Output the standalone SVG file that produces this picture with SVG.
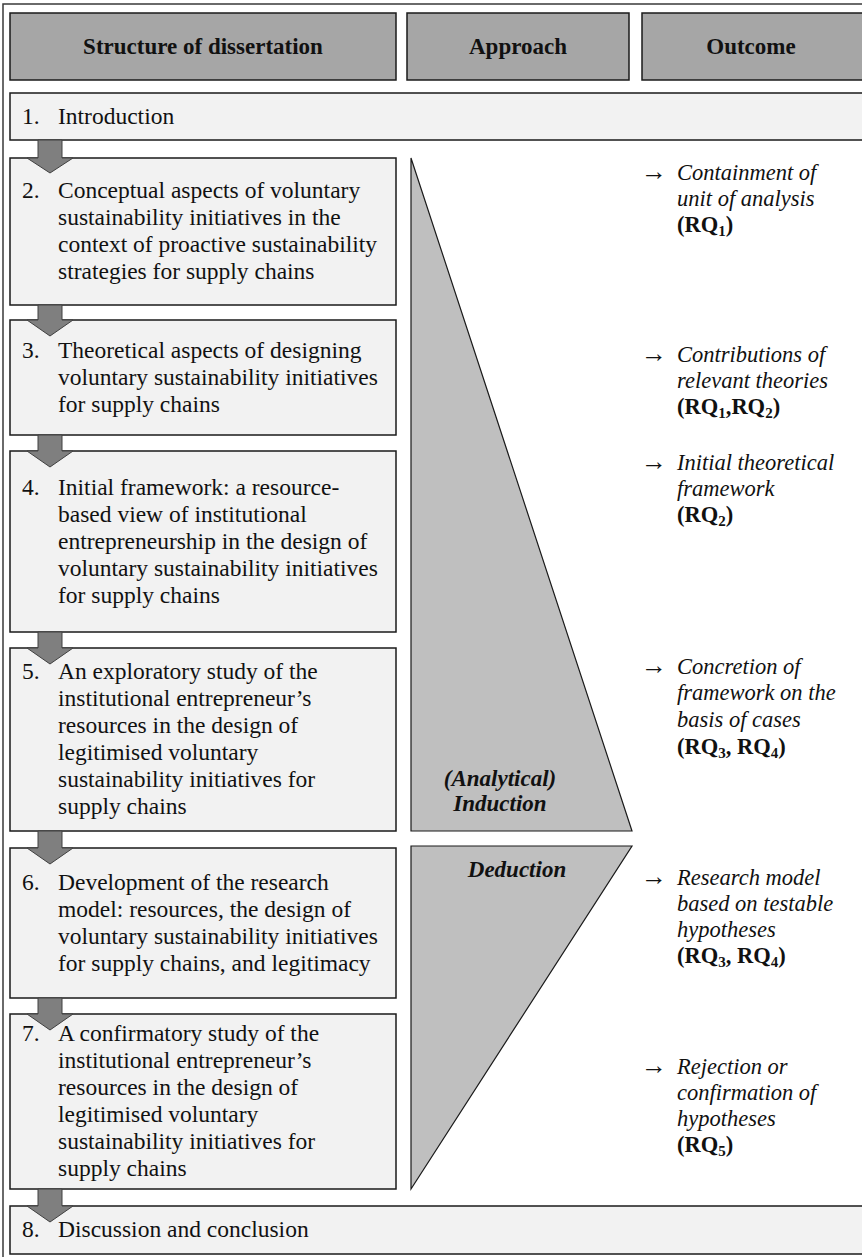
<svg xmlns="http://www.w3.org/2000/svg" width="862" height="1257" viewBox="0 0 862 1257">
  <defs>
    <style>
      .frame { fill: #ffffff; stroke: #3a3a3a; stroke-width: 1.5; }
      .head { fill: #a6a6a6; stroke: #1a1a1a; stroke-width: 1.5; }
      .box { fill: #f2f2f2; stroke: #1a1a1a; stroke-width: 1.5; }
      .tri { fill: #bfbfbf; stroke: #1a1a1a; stroke-width: 1.2; }
      .arrow { fill: #7f7f7f; stroke: #404040; stroke-width: 1; }
      text { font-family: "Liberation Serif", "Times New Roman", serif; fill: #111111; }
      .ht { font-size: 23px; font-weight: bold; text-anchor: middle; }
      .bt { font-size: 23.5px; }
      .ot { font-size: 22.5px; font-style: italic; }
      .ar { font-size: 26px; }
      .rq { font-size: 22.5px; font-weight: bold; }
      .ap { font-size: 23px; font-weight: bold; font-style: italic; text-anchor: middle; }
    </style>
  </defs>

  <!-- outer frame -->
  <rect class="frame" x="3" y="4" width="870" height="1262"/>

  <!-- column headers -->
  <g id="header-structure">
    <rect class="head" x="10" y="13" width="386" height="67"/>
    <text class="ht" x="203" y="54">Structure of dissertation</text>
  </g>
  <g id="header-approach">
    <rect class="head" x="407" y="13" width="222" height="67"/>
    <text class="ht" x="518" y="54">Approach</text>
  </g>
  <g id="header-outcome">
    <rect class="head" x="642" y="13" width="230" height="67"/>
    <text class="ht" x="751" y="54">Outcome</text>
  </g>

  <!-- chapter boxes -->
  <g id="ch1">
    <rect class="box" x="10" y="93" width="862" height="47"/>
    <text class="bt" x="22" y="124">1.</text>
    <text class="bt" x="58" y="124">Introduction</text>
  </g>

  <g id="ch2">
    <rect class="box" x="10" y="158" width="386" height="147"/>
    <text class="bt" x="22" y="198">2.</text>
    <text class="bt" x="58" y="198">Conceptual aspects of voluntary</text>
    <text class="bt" x="58" y="225">sustainability initiatives in the</text>
    <text class="bt" x="58" y="252">context of proactive sustainability</text>
    <text class="bt" x="58" y="279">strategies for supply chains</text>
  </g>

  <g id="ch3">
    <rect class="box" x="10" y="320" width="386" height="115"/>
    <text class="bt" x="22" y="357.5">3.</text>
    <text class="bt" x="58" y="357.5">Theoretical aspects of designing</text>
    <text class="bt" x="58" y="384.5">voluntary sustainability initiatives</text>
    <text class="bt" x="58" y="411.5">for supply chains</text>
  </g>

  <g id="ch4">
    <rect class="box" x="10" y="451" width="386" height="181"/>
    <text class="bt" x="22" y="494.5">4.</text>
    <text class="bt" x="58" y="494.5">Initial framework: a resource-</text>
    <text class="bt" x="58" y="521.5">based view of institutional</text>
    <text class="bt" x="58" y="548.5">entrepreneurship in the design of</text>
    <text class="bt" x="58" y="575.5">voluntary sustainability initiatives</text>
    <text class="bt" x="58" y="602.5">for supply chains</text>
  </g>

  <g id="ch5">
    <rect class="box" x="10" y="648" width="386" height="183"/>
    <text class="bt" x="22" y="679">5.</text>
    <text class="bt" x="58" y="679">An exploratory study of the</text>
    <text class="bt" x="58" y="706">institutional entrepreneur’s</text>
    <text class="bt" x="58" y="733">resources in the design of</text>
    <text class="bt" x="58" y="760">legitimised voluntary</text>
    <text class="bt" x="58" y="787">sustainability initiatives for</text>
    <text class="bt" x="58" y="814">supply chains</text>
  </g>

  <g id="ch6">
    <rect class="box" x="10" y="848" width="386" height="150"/>
    <text class="bt" x="22" y="889.5">6.</text>
    <text class="bt" x="58" y="889.5">Development of the research</text>
    <text class="bt" x="58" y="916.5">model: resources, the design of</text>
    <text class="bt" x="58" y="943.5">voluntary sustainability initiatives</text>
    <text class="bt" x="58" y="970.5">for supply chains, and legitimacy</text>
  </g>

  <g id="ch7">
    <rect class="box" x="10" y="1014" width="386" height="175"/>
    <text class="bt" x="22" y="1041">7.</text>
    <text class="bt" x="58" y="1041">A confirmatory study of the</text>
    <text class="bt" x="58" y="1068">institutional entrepreneur’s</text>
    <text class="bt" x="58" y="1095">resources in the design of</text>
    <text class="bt" x="58" y="1122">legitimised voluntary</text>
    <text class="bt" x="58" y="1149">sustainability initiatives for</text>
    <text class="bt" x="58" y="1176">supply chains</text>
  </g>

  <g id="ch8">
    <rect class="box" x="10" y="1206" width="862" height="48"/>
    <text class="bt" x="22" y="1237">8.</text>
    <text class="bt" x="58" y="1237">Discussion and conclusion</text>
  </g>

  <!-- block arrows between chapters -->
  <g id="connectors">
    <polygon class="arrow" points="38,140 62,140 62,158 73,158 50,173 27,158 38,158"/>
    <polygon class="arrow" points="38,305 62,305 62,320 73,320 50,336 27,320 38,320"/>
    <polygon class="arrow" points="38,435 62,435 62,451 73,451 50,467 27,451 38,451"/>
    <polygon class="arrow" points="38,632 62,632 62,648 73,648 50,664 27,648 38,648"/>
    <polygon class="arrow" points="38,831 62,831 62,848 73,848 50,864 27,848 38,848"/>
    <polygon class="arrow" points="38,998 62,998 62,1014 73,1014 50,1030 27,1014 38,1014"/>
    <polygon class="arrow" points="38,1189 62,1189 62,1206 73,1206 50,1222 27,1206 38,1206"/>
  </g>

  <!-- approach wedges -->
  <g id="induction">
    <polygon class="tri" points="411,158 632,831 411,831"/>
    <text class="ap" x="500" y="786">(Analytical)</text>
    <text class="ap" x="500" y="811">Induction</text>
  </g>
  <g id="deduction">
    <polygon class="tri" points="411,846 632,846 411,1189"/>
    <text class="ap" x="517" y="877">Deduction</text>
  </g>

  <!-- outcomes -->
  <g id="out2">
    <text class="ar" x="641" y="180">→</text>
    <text class="ot" x="677" y="180">Containment of</text>
    <text class="ot" x="677" y="206">unit of analysis</text>
    <text class="rq" x="677" y="232">(RQ<tspan font-size="15" dy="4">1</tspan><tspan dy="-4">)</tspan></text>
  </g>
  <g id="out3">
    <text class="ar" x="641" y="362">→</text>
    <text class="ot" x="677" y="362">Contributions of</text>
    <text class="ot" x="677" y="388">relevant theories</text>
    <text class="rq" x="677" y="414">(RQ<tspan font-size="15" dy="4">1</tspan><tspan dy="-4">,RQ</tspan><tspan font-size="15" dy="4">2</tspan><tspan dy="-4">)</tspan></text>
  </g>
  <g id="out4">
    <text class="ar" x="641" y="470">→</text>
    <text class="ot" x="677" y="470">Initial theoretical</text>
    <text class="ot" x="677" y="496">framework</text>
    <text class="rq" x="677" y="522">(RQ<tspan font-size="15" dy="4">2</tspan><tspan dy="-4">)</tspan></text>
  </g>
  <g id="out5">
    <text class="ar" x="641" y="674">→</text>
    <text class="ot" x="677" y="674">Concretion of</text>
    <text class="ot" x="677" y="700">framework on the</text>
    <text class="ot" x="677" y="727">basis of cases</text>
    <text class="rq" x="677" y="754">(RQ<tspan font-size="15" dy="4">3</tspan><tspan dy="-4">, RQ</tspan><tspan font-size="15" dy="4">4</tspan><tspan dy="-4">)</tspan></text>
  </g>
  <g id="out6">
    <text class="ar" x="641" y="885">→</text>
    <text class="ot" x="677" y="885">Research model</text>
    <text class="ot" x="677" y="911">based on testable</text>
    <text class="ot" x="677" y="937">hypotheses</text>
    <text class="rq" x="677" y="963">(RQ<tspan font-size="15" dy="4">3</tspan><tspan dy="-4">, RQ</tspan><tspan font-size="15" dy="4">4</tspan><tspan dy="-4">)</tspan></text>
  </g>
  <g id="out7">
    <text class="ar" x="641" y="1074">→</text>
    <text class="ot" x="677" y="1074">Rejection or</text>
    <text class="ot" x="677" y="1100">confirmation of</text>
    <text class="ot" x="677" y="1126">hypotheses</text>
    <text class="rq" x="677" y="1152">(RQ<tspan font-size="15" dy="4">5</tspan><tspan dy="-4">)</tspan></text>
  </g>
</svg>
